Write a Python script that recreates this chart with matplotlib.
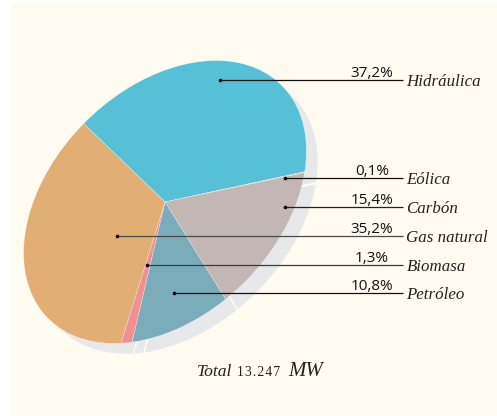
import matplotlib
matplotlib.use("Agg")
import matplotlib.pyplot as plt
from matplotlib.patches import Rectangle
from matplotlib.transforms import Affine2D

# Datos
fuentes = ["Hidráulica", "Eólica", "Carbón", "Gas natural", "Biomasa", "Petróleo"]
porcentajes = ["37,2%", "0,1%", "15,4%", "35,2%", "1,3%", "10,8%"]

# orden en el que van los sectores, en sentido horario
orden_pie = ["Hidráulica", "Eólica", "Carbón", "Petróleo", "Biomasa", "Gas natural"]
valores_pie = [37.2, 0.1, 15.4, 10.8, 1.3, 35.2]
colores_pie = ["#55C0D6", "#DBB3CF", "#C2B7B4", "#7AACBA", "#F09093", "#E1AF74"]

# donde arranca cada linea guia y su altura (pixeles)
inicio_linea = [220, 285, 285, 117, 147, 174]
y_linea = [80, 178, 207, 236, 265, 293]
color_linea = ["#111111", "#111111", "#222222", "#4a4a48", "#3a3a38", "#111111"]

fondo = "#FFFBF1"
gris = "#E7E8EA"

fig = plt.figure(figsize=(4.97, 4.16), dpi=100, facecolor="white")
ax = fig.add_axes([0, 0, 1, 1])


def elipse(dx=0, dy=0):
    # el pastel es un circulo aplastado y girado 45 grados
    return (Affine2D().scale(165, 113).rotate_deg(45).scale(1, -1)
            .translate(165 + dx, 202 + dy) + ax.transData)


# sombra
sombra, _ = ax.pie(valores_pie, startangle=90.7, counterclock=False, colors=[gris] * 6)
for w in sombra:
    w.set_transform(elipse(12, 11))
    w.set_edgecolor(fondo)
    w.set_linewidth(1.1)
    w.set_zorder(2)

# pastel
sectores, _ = ax.pie(valores_pie, startangle=90.7, counterclock=False, colors=colores_pie)
for w in sectores:
    w.set_transform(elipse())
    w.set_edgecolor(fondo)
    w.set_linewidth(0.2)
    w.set_zorder(3)

ax.set_aspect("auto")
ax.set_xlim(0, 497)
ax.set_ylim(416, 0)
ax.add_patch(Rectangle((11, 4), 486, 412, facecolor=fondo, edgecolor="none", zorder=0))

for i, fuente in enumerate(fuentes):
    ax.plot([inicio_linea[i], 403], [y_linea[i], y_linea[i]], color=color_linea[i], lw=0.9,
            solid_capstyle="butt", zorder=4)
    ax.plot(inicio_linea[i], y_linea[i], "o", color="black", ms=1.6, zorder=5)
    ax.text(372, y_linea[i] - 3, porcentajes[i], ha="center", va="baseline",
            family="Open Sans", fontsize=11, color="#111111", zorder=6)
    ax.text(406.5, y_linea[i] + 6, fuente, ha="left", va="baseline",
            family="Liberation Serif", style="italic", fontsize=12.2, color="#222222", zorder=6)

# total, con los numeros mas chicos y espaciados
ax.text(197, 376, "Total", ha="left", va="baseline", family="Liberation Serif",
        style="italic", fontsize=12.6, color="#222222")
ax.text(237, 376, "\u200a".join("13.247"), ha="left", va="baseline", family="Liberation Serif",
        fontsize=9.8, color="#222222")
ax.text(323, 376, "MW", ha="right", va="baseline", family="Liberation Serif",
        style="italic", fontsize=15, color="#222222")

fig.savefig("out.png", dpi=100, facecolor="white")
